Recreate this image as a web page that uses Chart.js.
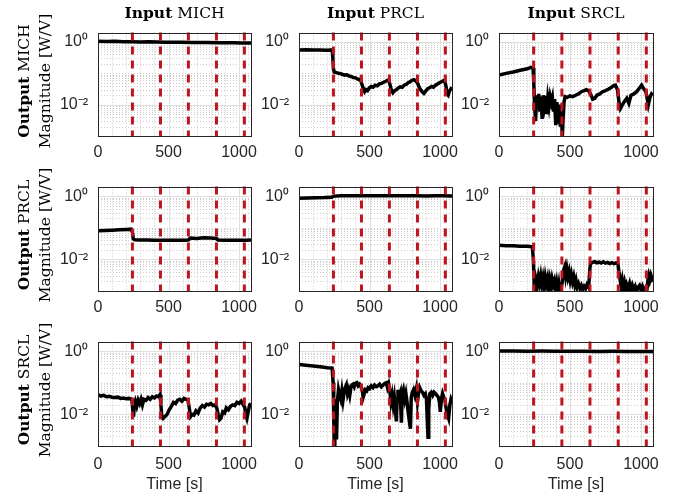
<!DOCTYPE html>
<html>
<head>
<meta charset="utf-8">
<script src="https://cdn.jsdelivr.net/npm/chart.js@4.4.1/dist/chart.umd.min.js"></script>
<style>
  html, body { margin: 0; padding: 0; background: #fff; }
  #fig { position: relative; width: 683px; height: 501px; overflow: hidden; }
  #fig canvas { position: absolute; }
  .lbl { position: absolute; font-family: "DejaVu Serif", serif; font-size: 15.5px; color: #000;
         white-space: nowrap; line-height: 20px; }
</style>
</head>
<body>
<div id="fig"></div>
<script>
// channels: rows = output, columns = input
const channels = ['MICH', 'PRCL', 'SRCL'];

// times of the step changes (red dashed lines)
const stepTimes = [244, 443, 641, 840, 1038];

// axis ticks
const xTicks = [0, 500, 1000];
const yTicks = [0.01, 1];
const yTickLabels = ['10⁻²', '10⁰'];
const xMax = 1085;
const yMin = 1e-3, yMax = 2;

// transfer magnitude [W/V] over time, as [time s, magnitude] – named OUTPUT_INPUT
const MICH_MICH = [[0,1.06],[60,1.04],[120,1.05],[180,1.03],[240,1.02],[300,1.01],[360,1.02],[420,1.0],
  [480,0.99],[540,0.99],[600,0.98],[660,0.97],[720,0.97],[780,0.96],[840,0.95],[900,0.95],[960,0.94],
  [1020,0.93],[1085,0.93]];

const MICH_PRCL = [[0,0.56],[50,0.57],[100,0.56],[150,0.56],[200,0.55],[236,0.56],[240,0.3],[244,0.14],
  [250,0.11],[265,0.105],[280,0.1],[295,0.098],[310,0.092],[325,0.088],[340,0.09],[355,0.082],[370,0.08],
  [385,0.074],[400,0.072],[415,0.066],[428,0.062],[436,0.066],[446,0.045],[456,0.033],[466,0.026],
  [476,0.03],[486,0.028],[498,0.034],[512,0.038],[526,0.036],[540,0.042],[555,0.04],[570,0.046],
  [585,0.048],[600,0.052],[615,0.056],[628,0.06],[638,0.058],[646,0.042],[656,0.028],[666,0.024],
  [678,0.028],[690,0.03],[704,0.034],[718,0.037],[732,0.036],[746,0.042],[760,0.044],[774,0.05],
  [788,0.054],[802,0.06],[816,0.063],[830,0.056],[840,0.05],[850,0.038],[862,0.03],[874,0.026],
  [886,0.023],[898,0.027],[912,0.032],[926,0.035],[940,0.038],[954,0.036],[968,0.042],[982,0.046],
  [996,0.05],[1010,0.054],[1024,0.058],[1034,0.056],[1042,0.04],[1050,0.022],[1058,0.02],[1066,0.027],
  [1076,0.031],[1085,0.036]];

const MICH_SRCL = [[0,0.089],[50,0.1],[100,0.11],[150,0.125],[200,0.14],[225,0.155],[240,0.15],[245,0.05],
  [250,0.01],[258,0.003],[265,0.02],[272,0.008],[280,0.022],[288,0.006],[296,0.018],[304,0.0035],
  [312,0.02],[320,0.01],[328,0.019],[336,0.005],[344,0.016],[352,0.009],[360,0.018],[368,0.012],
  [376,0.017],[384,0.006],[392,0.015],[400,0.0022],[408,0.012],[416,0.0025],[424,0.01],[432,0.002],
  [440,0.006],[446,0.0009],[452,0.004],[458,0.012],[465,0.018],[480,0.017],[500,0.019],[520,0.018],
  [540,0.02],[560,0.022],[580,0.026],[600,0.028],[615,0.03],[630,0.028],[645,0.022],[660,0.015],
  [675,0.016],[690,0.02],[710,0.022],[730,0.026],[750,0.028],[770,0.031],[790,0.035],[805,0.04],
  [820,0.042],[835,0.03],[845,0.012],[855,0.0075],[870,0.01],[885,0.013],[900,0.016],[915,0.011],
  [930,0.02],[950,0.022],[970,0.026],[990,0.034],[1005,0.042],[1020,0.032],[1035,0.026],[1045,0.015],
  [1052,0.01],[1065,0.018],[1075,0.022],[1085,0.02]];

const PRCL_MICH = [[0,0.08],[50,0.082],[100,0.084],[150,0.086],[200,0.088],[235,0.09],[245,0.07],
  [250,0.045],[260,0.042],[300,0.041],[350,0.041],[400,0.04],[450,0.04],[500,0.04],[550,0.04],
  [600,0.04],[640,0.041],[655,0.047],[700,0.046],[750,0.048],[800,0.047],[840,0.046],[850,0.041],
  [900,0.04],[950,0.04],[1000,0.04],[1050,0.04],[1085,0.041]];

const PRCL_PRCL = [[0,0.86],[60,0.88],[120,0.89],[180,0.9],[230,0.92],[250,1.0],[300,1.02],[360,1.03],
  [420,1.03],[480,1.03],[540,1.02],[600,1.03],[660,1.02],[720,1.02],[780,1.02],[840,1.02],[900,1.01],
  [960,1.02],[1020,1.02],[1085,1.01]];

const PRCL_SRCL = [[0,0.028],[50,0.027],[100,0.027],[150,0.026],[200,0.026],[235,0.025],[242,0.01],
  [248,0.0015],[255,0.0012],[262,0.0022],[270,0.0015],[278,0.0028],[286,0.0018],[294,0.003],
  [302,0.0016],[310,0.0026],[318,0.0014],[326,0.0028],[334,0.0017],[342,0.0025],[350,0.0012],
  [358,0.0022],[366,0.0013],[374,0.0024],[382,0.0016],[390,0.0021],[398,0.0011],[406,0.0018],
  [414,0.0009],[422,0.0016],[430,0.0008],[438,0.0012],[446,0.002],[455,0.0045],[463,0.0058],
  [470,0.003],[478,0.005],[486,0.0028],[494,0.004],[502,0.0022],[510,0.0033],[518,0.002],[526,0.0028],
  [534,0.0016],[542,0.0022],[550,0.0013],[560,0.0017],[570,0.0012],[580,0.0015],[590,0.0011],
  [600,0.0014],[610,0.0012],[620,0.0016],[632,0.0013],[640,0.005],[645,0.0075],[660,0.008],
  [675,0.0085],[690,0.0078],[705,0.0082],[720,0.0077],[735,0.0084],[750,0.0076],[765,0.008],
  [780,0.0074],[795,0.0079],[810,0.0073],[825,0.0077],[838,0.0072],[845,0.004],[852,0.0025],
  [860,0.0014],[868,0.0022],[876,0.0012],[884,0.0018],[892,0.0011],[900,0.0016],[910,0.0012],
  [920,0.0017],[930,0.001],[940,0.0015],[950,0.0011],[960,0.0014],[970,0.001],[980,0.0013],
  [990,0.0015],[1000,0.0011],[1010,0.0014],[1020,0.001],[1030,0.0012],[1040,0.0009],[1048,0.002],
  [1055,0.003],[1062,0.0022],[1070,0.0032],[1078,0.0025],[1085,0.003]];

const SRCL_MICH = [[0,0.042],[20,0.038],[40,0.04],[60,0.036],[80,0.037],[100,0.035],[120,0.034],
  [140,0.035],[160,0.032],[180,0.033],[200,0.031],[220,0.032],[240,0.03],[248,0.012],[252,0.0085],
  [258,0.02],[265,0.026],[275,0.018],[285,0.028],[295,0.022],[305,0.03],[315,0.02],[325,0.03],
  [340,0.028],[355,0.034],[370,0.03],[385,0.036],[400,0.033],[415,0.038],[430,0.036],[440,0.042],
  [446,0.02],[452,0.009],[462,0.0075],[475,0.0085],[490,0.01],[505,0.014],[520,0.018],[535,0.024],
  [550,0.022],[565,0.028],[580,0.03],[595,0.026],[610,0.032],[625,0.03],[638,0.028],[648,0.015],
  [656,0.0085],[668,0.01],[680,0.0095],[695,0.013],[710,0.011],[725,0.016],[740,0.019],[755,0.017],
  [770,0.021],[785,0.02],[800,0.022],[815,0.019],[830,0.02],[842,0.016],[852,0.01],[862,0.0068],
  [872,0.0075],[885,0.012],[898,0.011],[910,0.016],[925,0.014],[940,0.018],[955,0.02],[970,0.019],
  [985,0.024],[1000,0.022],[1015,0.026],[1030,0.02],[1040,0.017],[1048,0.01],[1056,0.0075],
  [1065,0.012],[1075,0.02],[1085,0.022]];

const SRCL_PRCL = [[0,0.38],[50,0.36],[100,0.34],[150,0.32],[200,0.3],[235,0.29],[242,0.1],[246,0.01],
  [250,0.0008],[254,0.03],[260,0.018],[266,0.0016],[272,0.025],[280,0.06],[288,0.04],[296,0.03],
  [304,0.055],[312,0.028],[320,0.05],[328,0.07],[336,0.085],[344,0.045],[352,0.06],[360,0.04],
  [368,0.07],[376,0.085],[384,0.09],[392,0.075],[400,0.095],[410,0.1],[420,0.08],[430,0.09],
  [440,0.075],[448,0.06],[455,0.035],[462,0.045],[470,0.06],[480,0.055],[490,0.07],[500,0.065],
  [512,0.08],[524,0.07],[536,0.085],[548,0.075],[560,0.08],[572,0.09],[584,0.075],[596,0.085],
  [608,0.095],[620,0.1],[628,0.07],[636,0.09],[645,0.05],[652,0.025],[660,0.04],[668,0.02],
  [676,0.035],[684,0.015],[690,0.006],[696,0.03],[702,0.06],[710,0.04],[718,0.05],[726,0.0055],
  [732,0.045],[740,0.06],[750,0.03],[758,0.045],[766,0.025],[774,0.012],[790,0.0035],[796,0.035],
  [804,0.05],[812,0.06],[822,0.04],[832,0.065],[840,0.025],[848,0.05],[856,0.07],[866,0.055],
  [876,0.05],[886,0.04],[896,0.045],[904,0.03],[910,0.006],[915,0.0019],[920,0.015],[928,0.045],
  [938,0.05],[948,0.04],[958,0.05],[968,0.045],[978,0.04],[988,0.035],[996,0.024],[1002,0.012],
  [1010,0.03],[1018,0.045],[1026,0.035],[1034,0.03],[1044,0.015],[1052,0.01],[1061,0.0075],
  [1070,0.02],[1078,0.03],[1085,0.025]];

const SRCL_SRCL = [[0,1.0],[100,1.0],[200,0.99],[300,1.0],[400,0.99],[500,0.99],[600,0.99],[700,0.98],
  [800,0.99],[900,0.98],[1000,0.98],[1085,0.98]];

const seriesByPanel = {
  MICH_MICH, MICH_PRCL, MICH_SRCL,
  PRCL_MICH, PRCL_PRCL, PRCL_SRCL,
  SRCL_MICH, SRCL_PRCL, SRCL_SRCL
};

// layout of plot areas (pixels)
const colLeft = [98, 299, 499];
const colWidth = [153, 153, 154];
const rowTop = [25, 179, 334];
const rowHeight = [111, 112, 112];
const padL = 70, padT = 12, padR = 26;

const tickColor = '#262626';
const sansFont = '"Liberation Sans", Arial, sans-serif';

// grid, step lines and axes box
const panelDecor = {
  id: 'panelDecor',
  beforeDatasetsDraw(chart) {
    const {ctx, chartArea: a, scales: {x, y}} = chart;
    const vline = px => { px = Math.round(px) + 0.5; ctx.beginPath(); ctx.moveTo(px, a.top); ctx.lineTo(px, a.bottom); ctx.stroke(); };
    const hline = py => { py = Math.round(py) + 0.5; ctx.beginPath(); ctx.moveTo(a.left, py); ctx.lineTo(a.right, py); ctx.stroke(); };
    ctx.save();
    ctx.lineWidth = 1;
    // minor grid (dotted)
    ctx.strokeStyle = '#cbcbcb';
    ctx.setLineDash([1, 2]);
    for (let v = 100; v < xMax; v += 100) {
      if (v % 500 !== 0) vline(x.getPixelForValue(v));
    }
    for (let e = -3; e <= 0; e++) {
      for (let m = 1; m <= 9; m++) {
        if (m === 1 && (e === -2 || e === 0)) continue;
        const v = m * Math.pow(10, e);
        if (v > yMin && v < yMax) hline(y.getPixelForValue(v));
      }
    }
    // major grid
    ctx.setLineDash([]);
    ctx.strokeStyle = '#dfdfdf';
    xTicks.forEach(v => { if (v > 0) vline(x.getPixelForValue(v)); });
    yTicks.forEach(v => hline(y.getPixelForValue(v)));
    ctx.restore();
  },
  afterDatasetsDraw(chart) {
    const {ctx, chartArea: a, scales: {x}} = chart;
    ctx.save();
    ctx.strokeStyle = '#be1420';
    ctx.lineWidth = 3;
    ctx.setLineDash([8, 6]);
    stepTimes.forEach(t => {
      const px = x.getPixelForValue(t);
      ctx.beginPath(); ctx.moveTo(px, a.top); ctx.lineTo(px, a.bottom); ctx.stroke();
    });
    ctx.setLineDash([]);
    ctx.strokeStyle = tickColor;
    ctx.lineWidth = 1;
    ctx.strokeRect(Math.round(a.left) + 0.5, Math.round(a.top) + 0.5, Math.round(a.width), Math.round(a.height));
    ctx.restore();
  }
};

const fig = document.getElementById('fig');

function addLabel(html, cx, cy, rotate) {
  const d = document.createElement('div');
  d.className = 'lbl';
  d.innerHTML = html;
  fig.appendChild(d);
  const w = d.offsetWidth, h = d.offsetHeight;
  d.style.left = (cx - w / 2) + 'px';
  d.style.top = (cy - h / 2) + 'px';
  if (rotate) d.style.transform = 'rotate(-90deg)';
}

function makePanel(r, c) {
  const key = channels[r] + '_' + channels[c];
  const pts = seriesByPanel[key];
  const bottomRow = r === 2;
  const padB = bottomRow ? 56 : 36;

  const canvas = document.createElement('canvas');
  canvas.width = padL + colWidth[c] + padR;
  canvas.height = padT + rowHeight[r] + padB;
  canvas.style.left = (colLeft[c] - padL) + 'px';
  canvas.style.top = (rowTop[r] - padT) + 'px';
  fig.appendChild(canvas);

  new Chart(canvas, {
    type: 'line',
    data: {
      datasets: [{
        data: pts.map(p => ({x: p[0], y: p[1]})),
        borderColor: '#000',
        borderWidth: 3.5,
        pointRadius: 0,
        tension: 0,
        fill: false
      }]
    },
    options: {
      responsive: false,
      animation: false,
      events: [],
      layout: { padding: { left: 0, top: padT, right: padR, bottom: 0 } },
      plugins: { legend: { display: false }, tooltip: { enabled: false } },
      scales: {
        x: {
          type: 'linear',
          min: 0,
          max: xMax,
          afterBuildTicks: s => { s.ticks = xTicks.map(v => ({value: v})); },
          afterFit: s => { s.height = padB; },
          grid: { display: false, drawTicks: false },
          border: { display: false },
          ticks: {
            autoSkip: false, maxRotation: 0,
            padding: bottomRow ? 9 : 7,
            color: tickColor,
            font: { family: sansFont, size: 16 },
            callback: v => String(v)
          },
          title: {
            display: bottomRow,
            text: 'Time [s]',
            color: tickColor,
            font: { family: sansFont, size: 16 },
            padding: { top: 0, bottom: 8 }
          }
        },
        y: {
          type: 'logarithmic',
          min: yMin,
          max: yMax,
          afterBuildTicks: s => { s.ticks = yTicks.map(v => ({value: v})); },
          afterFit: s => { s.width = padL; },
          grid: { display: false, drawTicks: false },
          border: { display: false },
          ticks: {
            autoSkip: false,
            padding: 10,
            labelOffset: 0,
            color: tickColor,
            font: { family: sansFont, size: 16 },
            callback: v => {
              const i = yTicks.indexOf(v);
              return i >= 0 ? yTickLabels[i] : '';
            }
          }
        }
      }
    },
    plugins: [panelDecor]
  });
}

for (let r = 0; r < 3; r++) {
  for (let c = 0; c < 3; c++) makePanel(r, c);
}

// column titles and row labels
for (let c = 0; c < 3; c++) {
  addLabel('<b>Input</b> ' + channels[c], colLeft[c] + colWidth[c] / 2, 13, false);
}
for (let r = 0; r < 3; r++) {
  const cy = rowTop[r] + rowHeight[r] / 2;
  addLabel('<b>Output</b> ' + channels[r], 24, cy, true);
  addLabel('Magnitude [W/V]', 45, cy, true);
}
</script>
</body>
</html>
